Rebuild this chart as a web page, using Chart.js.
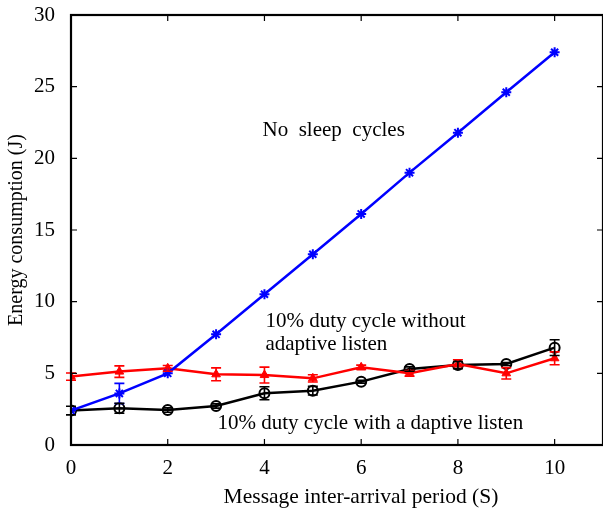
<!DOCTYPE html>
<html>
<head>
<meta charset="utf-8">
<script src="https://cdn.jsdelivr.net/npm/chart.js@4/dist/chart.umd.min.js"></script>
<style>
  html, body { margin: 0; padding: 0; background: #fff; }
  #wrap { width: 603px; height: 510px; }
</style>
</head>
<body>
<div id="wrap"><canvas id="grafico" width="603" height="510"></canvas></div>
<script>
// valores
const periodos = [0, 1, 2, 3, 4, 5, 6, 7, 8, 9, 10];
const sinSueno = [2.4, 3.6, 5.0, 7.72, 10.52, 13.31, 16.12, 19.0, 21.79, 24.61, 27.4];
const sinSuenoErr = [0, 0.7, 0, 0, 0, 0, 0, 0, 0, 0, 0];
const sinAdaptivo = [4.77, 5.12, 5.35, 4.93, 4.88, 4.65, 5.42, 5.0, 5.65, 5.0, 6.05];
const sinAdaptivoErr = [0.25, 0.4, 0.2, 0.45, 0.55, 0.25, 0.15, 0.2, 0.3, 0.4, 0.45];
const conAdaptivo = [2.4, 2.56, 2.44, 2.72, 3.61, 3.79, 4.42, 5.3, 5.58, 5.65, 6.79];
const conAdaptivoErr = [0.3, 0.35, 0.15, 0.15, 0.45, 0.3, 0.1, 0.15, 0.25, 0.1, 0.55];
const ticksX = [0, 2, 4, 6, 8, 10];
const ticksY = [0, 5, 10, 15, 20, 25, 30];

const etiquetas = [
    { texto: 'No  sleep  cycles', x: 3.96, y: 21.93 },
    { texto: '10% duty cycle without', x: 4.02, y: 8.6 },
    { texto: 'adaptive listen', x: 4.02, y: 6.98 },
    { texto: '10% duty cycle with a daptive listen', x: 3.03, y: 1.47 }
];
const tituloX = 'Message inter-arrival period (S)';

const FUENTE = 'Liberation Serif';

const toPts = (ys) => periodos.map((x, i) => ({ x: x, y: ys[i] }));

// barras de error + textos + marco con ticks hacia dentro
const extras = {
    id: 'extras',
    afterDatasetsDraw(chart) {
        const ctx = chart.ctx;
        const sx = chart.scales.x, sy = chart.scales.y;
        chart.data.datasets.forEach((ds) => {
            if (!ds.errores) return;
            ctx.save();
            ctx.strokeStyle = ds.borderColor;
            ctx.lineWidth = 1.6;
            ds.data.forEach((p, i) => {
                const e = ds.errores[i];
                if (!e) return;
                const px = sx.getPixelForValue(p.x);
                const y1 = sy.getPixelForValue(p.y + e);
                const y2 = sy.getPixelForValue(p.y - e);
                ctx.beginPath();
                ctx.moveTo(px, y1); ctx.lineTo(px, y2);
                ctx.moveTo(px - 5, y1); ctx.lineTo(px + 5, y1);
                ctx.moveTo(px - 5, y2); ctx.lineTo(px + 5, y2);
                ctx.stroke();
            });
            ctx.restore();
        });
    },
    afterDraw(chart) {
        const ctx = chart.ctx;
        const a = chart.chartArea;
        const sx = chart.scales.x, sy = chart.scales.y;
        ctx.save();
        ctx.strokeStyle = '#000';
        ctx.lineWidth = 2.2;
        ctx.strokeRect(a.left, a.top, a.right - a.left, a.bottom - a.top);
        ctx.lineWidth = 1.2;
        ctx.beginPath();
        ticksX.forEach(v => {
            const px = sx.getPixelForValue(v);
            ctx.moveTo(px, a.bottom); ctx.lineTo(px, a.bottom - 6);
            ctx.moveTo(px, a.top); ctx.lineTo(px, a.top + 6);
        });
        ticksY.forEach(v => {
            const py = sy.getPixelForValue(v);
            ctx.moveTo(a.left, py); ctx.lineTo(a.left + 6, py);
            ctx.moveTo(a.right, py); ctx.lineTo(a.right - 6, py);
        });
        ctx.stroke();

        ctx.fillStyle = '#000';
        ctx.font = '21px "' + FUENTE + '"';
        ctx.textAlign = 'left';
        ctx.textBaseline = 'middle';
        etiquetas.forEach(t => {
            ctx.fillText(t.texto, sx.getPixelForValue(t.x), sy.getPixelForValue(t.y));
        });

        // título del eje x (en el original está algo desplazado a la derecha)
        ctx.font = '21.5px "' + FUENTE + '"';
        ctx.textAlign = 'center';
        ctx.fillText(tituloX, 361, 497);
        ctx.restore();
    }
};

const ctx = document.getElementById('grafico').getContext('2d');
new Chart(ctx, {
    type: 'scatter',
    data: {
        datasets: [{
            label: 'No sleep cycles',
            data: toPts(sinSueno),
            errores: sinSuenoErr,
            borderColor: '#0000ff',
            backgroundColor: '#0000ff',
            borderWidth: 2.5,
            pointStyle: 'star',
            pointRadius: 5,
            pointBorderWidth: 2,
            showLine: true
        }, {
            label: '10% duty cycle without adaptive listen',
            data: toPts(sinAdaptivo),
            errores: sinAdaptivoErr,
            borderColor: '#ff0000',
            backgroundColor: '#ff0000',
            borderWidth: 2.5,
            pointStyle: 'triangle',
            pointRadius: 5,
            pointBorderWidth: 1,
            showLine: true
        }, {
            label: '10% duty cycle with adaptive listen',
            data: toPts(conAdaptivo),
            errores: conAdaptivoErr,
            borderColor: '#000000',
            backgroundColor: 'rgba(0,0,0,0)',
            borderWidth: 2.5,
            pointStyle: 'circle',
            pointRadius: 5,
            pointBorderWidth: 2,
            showLine: true
        }]
    },
    options: {
        responsive: false,
        animation: false,
        layout: { autoPadding: false, padding: { top: 15, right: 0, left: 0, bottom: 0 } },
        plugins: {
            legend: { display: false },
            tooltip: { enabled: false }
        },
        scales: {
            x: {
                type: 'linear',
                min: 0,
                max: 11,
                grid: { display: false },
                border: { display: false },
                afterBuildTicks: (s) => { s.ticks = ticksX.map(v => ({ value: v })); },
                afterFit: (s) => { s.height = 65; s.paddingLeft = 0; s.paddingRight = 0; },
                ticks: {
                    color: '#000',
                    padding: 3,
                    maxRotation: 0,
                    font: { family: FUENTE, size: 21 }
                },
                title: { display: false }
            },
            y: {
                min: 0,
                max: 30,
                grid: { display: false },
                border: { display: false },
                afterBuildTicks: (s) => { s.ticks = ticksY.map(v => ({ value: v })); },
                afterFit: (s) => { s.width = 71; s.paddingTop = 0; s.paddingBottom = 0; },
                ticks: {
                    color: '#000',
                    padding: 8,
                    font: { family: FUENTE, size: 21 }
                },
                title: {
                    display: true,
                    text: 'Energy consumption (J)',
                    color: '#000',
                    padding: { top: 5, bottom: 2 },
                    font: { family: FUENTE, size: 20 }
                }
            }
        }
    },
    plugins: [extras]
});
</script>
</body>
</html>
